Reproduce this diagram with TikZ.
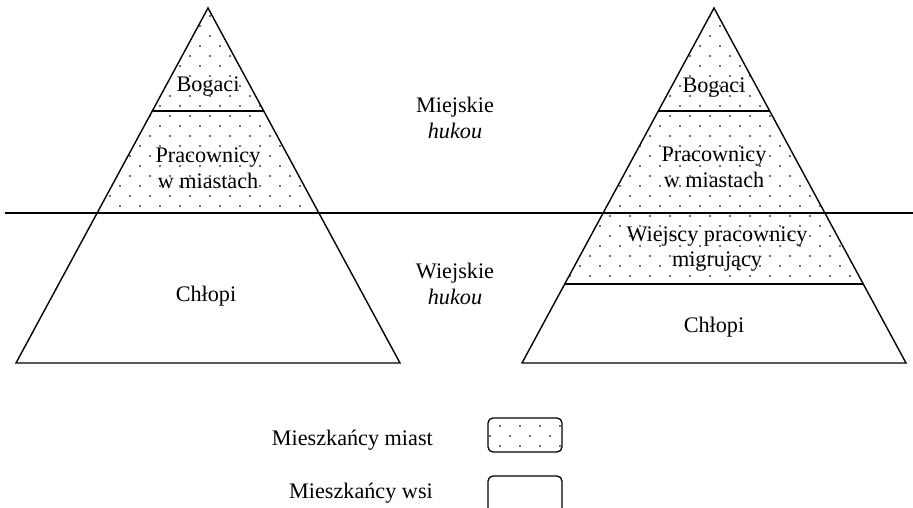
\documentclass[tikz,border=0pt]{standalone}
\usepackage{fontspec}
\setmainfont{Liberation Serif}
\usetikzlibrary{calc}
\tikzset{
  edge/.style={line width=1.4pt, line join=miter},
  lbl/.style={anchor=base, inner sep=0pt, font=\fontsize{22.2}{25}\selectfont},
  dotfill/.style={fill=black!75},
}
\newcommand{\dotgrid}[4]{% xmin xmax ymin ymax (in steps)
  \foreach \r in {#3,...,#4} {
    \pgfmathsetmacro\off{mod(\r+40,2)*10}
    \foreach \c in {#1,...,#2} {
      \fill[dotfill] (\c*20+\off, 206-\r*10) circle (1.1);
    }
  }
}
\begin{document}
\begin{tikzpicture}[x=1pt,y=-1pt]
\clip (0,0) rectangle (913,508);
\fill[white] (0,0) rectangle (913,508);
% left pyramid
\coordinate (LA) at (208,8);
\coordinate (LBL) at (16,363);
\coordinate (LBR) at (400,363);
\coordinate (L1l) at ($(LA)!0.2901!(LBL)$);
\coordinate (L1r) at ($(LA)!0.2901!(LBR)$);
\coordinate (L2l) at ($(LA)!0.5775!(LBL)$);
\coordinate (L2r) at ($(LA)!0.5775!(LBR)$);
% right pyramid
\coordinate (RA) at (714,8);
\coordinate (RBL) at (522,363);
\coordinate (RBR) at (906,363);
\coordinate (R1l) at ($(RA)!0.2901!(RBL)$);
\coordinate (R1r) at ($(RA)!0.2901!(RBR)$);
\coordinate (R3l) at ($(RA)!0.7775!(RBL)$);
\coordinate (R3r) at ($(RA)!0.7775!(RBR)$);
% dotted regions
\begin{scope}
  \clip (LA) -- (L2l) -- (L2r) -- cycle;
  \dotgrid{0}{21}{0}{21}
\end{scope}
\begin{scope}
  \clip (RA) -- (R3l) -- (R3r) -- cycle;
  \dotgrid{25}{46}{-8}{21}
\end{scope}
% outlines
\draw[edge] (LA) -- (LBL) -- (LBR) -- cycle;
\draw[edge] (L1l) -- (L1r);
\draw[edge] (RA) -- (RBL) -- (RBR) -- cycle;
\draw[edge] (R1l) -- (R1r);
\draw[edge] (R3l) -- (R3r);
\coordinate (HL) at (5,213);
\coordinate (HR) at (913,213);
\draw[edge] (HL) -- (HR);
% labels left
\node[lbl] (lbog) at (208,92) {Bogaci};
\node[lbl] (lprac) at (208,163) {Pracownicy};
\node[lbl] (lmiast) at (208,188) {w miastach};
\node[lbl] (lchl) at (206,301) {Chłopi};
% middle
\node[lbl] (miej) at (455,113) {Miejskie};
\node[lbl] (hu1) at (455,139) {\itshape hukou};
\node[lbl] (wiej) at (455,278) {Wiejskie};
\node[lbl] (hu2) at (455,304) {\itshape hukou};
% labels right
\node[lbl] (rbog) at (714,93) {Bogaci};
\node[lbl] (rprac) at (714,161) {Pracownicy};
\node[lbl] (rmiast) at (714,187) {w miastach};
\node[lbl] (rwiej) at (717,241) {Wiejscy pracownicy};
\node[lbl] (rmigr) at (717,266) {migrujący};
\node[lbl] (rchl) at (714,332) {Chłopi};
% legend
\node[lbl, anchor=base east] (legm) at (433,445) {Mieszkańcy miast};
\node[lbl, anchor=base east] (legw) at (433,498) {Mieszkańcy wsi};
\begin{scope}
  \clip[rounded corners=5pt] (488,418) rectangle (562,452);
  \dotgrid{23}{29}{-26}{-22}
\end{scope}
\draw[line width=1.3pt, rounded corners=5pt] (488,418) rectangle (562,452);
\draw[line width=1.3pt, rounded corners=5pt] (488,476) rectangle (562,514);
\end{tikzpicture}
\end{document}
